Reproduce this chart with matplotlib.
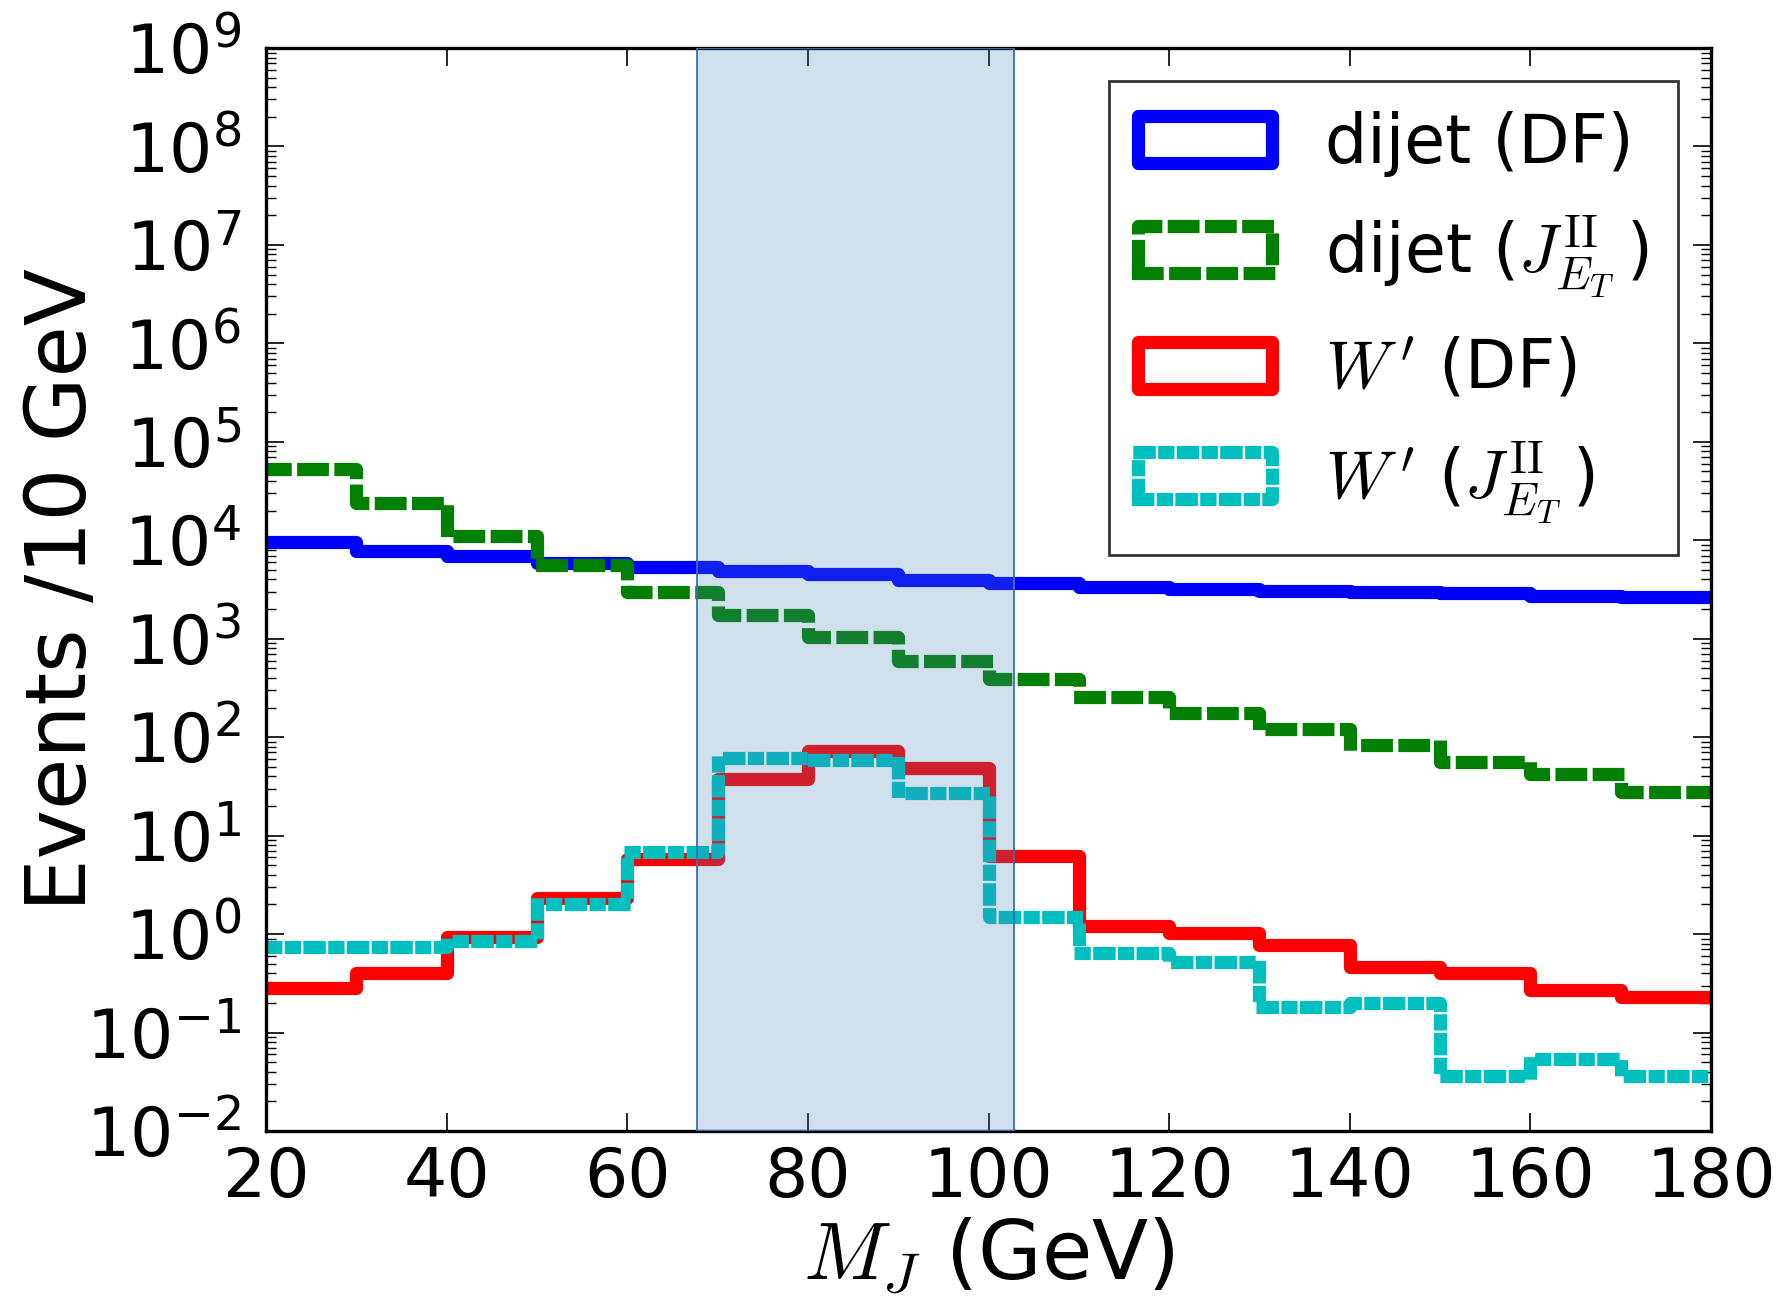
import numpy as np
import matplotlib
matplotlib.use('Agg')
import matplotlib.pyplot as plt
import matplotlib.patches as mpatches
from matplotlib.ticker import LogLocator, FixedLocator, NullLocator

plt.rcParams['font.family'] = ['DejaVu Sans']
plt.rcParams['mathtext.fontset'] = 'cm'
plt.rcParams['axes.unicode_minus'] = False
plt.rcParams['lines.scale_dashes'] = False

# Histogram data (events per 10 GeV bin)
bin_edges = [20, 30, 40, 50, 60, 70, 80, 90, 100, 110, 120, 130, 140, 150, 160, 170, 180]
dijet_df = [9600, 7800, 6900, 5900, 5350, 4900, 4500, 3970, 3670, 3390, 3210, 3040, 2960, 2880, 2740, 2670]
dijet_jet = [52500, 24000, 11000, 5600, 3000, 1730, 1050, 600, 390, 254, 175, 122, 83, 56, 42, 28]
wprime_df = [0.285, 0.40, 0.93, 2.3, 5.8, 37.5, 72.6, 49, 6.2, 1.21, 1.02, 0.77, 0.46, 0.40, 0.27, 0.23]
wprime_jet = [0.74, 0.74, 0.86, 2.0, 6.8, 62, 58.5, 27.4, 1.5, 0.65, 0.52, 0.18, 0.20, 0.036, 0.054, 0.036]
mass_window = [67.7, 102.8]

labels = ['dijet (DF)', r'dijet ($J^{\mathrm{II}}_{E_T}\,$)',
          r"$W\,'$ (DF)", r"$W\,'$ ($J^{\mathrm{II}}_{E_T}\,$)"]
colors = ['#0000ff', '#007f00', '#ff0000', '#00bfbf']
styles = ['solid', (0, (13.4, 13.4)), 'solid', (0, (6.7, 11.2, 2.2, 11.2))]
series = [dijet_df, dijet_jet, wprime_df, wprime_jet]

LW = 9.5

fig = plt.figure(figsize=(17.92, 12.97), dpi=100)
ax = fig.add_axes([266 / 1792, 1 - 1131 / 1297, 1445 / 1792, 1083 / 1297])

handles = []
for vals, col, ls, lab in zip(series, colors, styles, labels):
    ax.stairs(vals, bin_edges, baseline=None, color=col, linewidth=LW,
              linestyle=ls, capstyle='projecting', joinstyle='round', zorder=2)
    handles.append(mpatches.Patch(facecolor='none', edgecolor=col, linewidth=LW,
                                  linestyle=ls, label=lab))

# shaded W mass window drawn on top of the histograms
ax.axvspan(mass_window[0], mass_window[1], facecolor=(0.2745, 0.5098, 0.7059, 0.25),
           edgecolor='#3b6db4', linewidth=1.3, zorder=3)

ax.set_yscale('log')
ax.set_xlim(20, 180)
ax.set_ylim(1e-2, 1e9)

ax.xaxis.set_major_locator(FixedLocator(range(20, 181, 20)))
ax.xaxis.set_minor_locator(NullLocator())
ax.yaxis.set_major_locator(LogLocator(base=10, numticks=30))
ax.yaxis.set_minor_locator(LogLocator(base=10, subs=np.arange(2, 10), numticks=200))

ax.tick_params(which='both', direction='in', top=True, right=True)
ax.tick_params(which='major', length=13, width=1.2, labelsize=49)
ax.tick_params(which='minor', length=7, width=1.0)
ax.tick_params(axis='y', which='major', pad=18)
ax.tick_params(axis='x', which='major', pad=10)
for sp in ax.spines.values():
    sp.set_linewidth(2.4)

ax.set_xlabel(r'$M_J$ (GeV)', fontsize=59)
ax.set_ylabel('Events /10 GeV', fontsize=60)
ax.yaxis.set_label_coords(-0.113, 0.5)
ax.xaxis.set_label_coords(0.5, -0.078)

leg = ax.legend(handles=handles, loc='upper right', fontsize=48, fancybox=False,
                handlelength=2.0, handleheight=0.7, handletextpad=0.8,
                borderpad=0.44, labelspacing=0.55, borderaxespad=0.5)
leg.get_frame().set_edgecolor('black')
leg.get_frame().set_linewidth(2.0)
leg.set_zorder(5)
for p in leg.get_patches():
    p.set_capstyle('projecting')
    p.set_joinstyle('round')

fig.savefig('out.png', dpi=100)
